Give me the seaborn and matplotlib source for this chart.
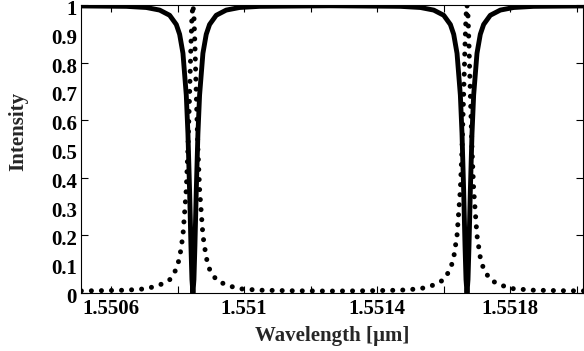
import numpy as np
import pandas as pd
import seaborn as sns
import matplotlib.pyplot as plt
from matplotlib.transforms import ScaledTranslation

# resonance centres (um)
dip_centres = [1.550846, 1.55167]

# offsets from each centre, in units of 1e-5 um
offset = [-30, -20, -14, -10, -7, -5, -4, -3, -2, -1.5, -1, -0.6, -0.3, 0,
          0.3, 0.6, 1, 1.5, 2, 3, 4, 5, 7, 10, 14, 20, 30]

# solid curve (through port) and dotted curve (drop port) around one resonance
thru = [0.996, 0.995, 0.991, 0.982, 0.964, 0.932, 0.898, 0.832, 0.687, 0.553, 0.354, 0.165, 0.047, 0.0,
        0.047, 0.165, 0.354, 0.553, 0.687, 0.832, 0.898, 0.932, 0.964, 0.982, 0.991, 0.995, 0.996]
drop = [0.008, 0.010, 0.015, 0.028, 0.046, 0.083, 0.123, 0.20, 0.36, 0.50, 0.692, 0.862, 0.962, 1.0,
        0.962, 0.862, 0.692, 0.50, 0.36, 0.20, 0.123, 0.083, 0.046, 0.028, 0.015, 0.010, 0.008]

# flat parts away from the resonances
edge_wl = [1.55045, 1.551258, 1.55210]
edge_thru = [0.997, 0.997, 0.997]
edge_drop = [0.007, 0.007, 0.007]

xticks_major = [1.5506, 1.551, 1.5514, 1.5518]
xtick_labels = ['1.5506', '1.551', '1.5514', '1.5518']
xticks_minor = [1.5508, 1.5512, 1.5516, 1.552]
yticks_major = [0, 0.2, 0.4, 0.6, 0.8, 1]
ytick_major_labels = ['0', '0.2', '0.4', '0.6', '0.8', '1']
yticks_minor = [0.1, 0.3, 0.5, 0.7, 0.9]
ytick_minor_labels = ['0.1', '0.3', '0.5', '0.7', '0.9']

rows = []
for c in dip_centres:
    for o, t, d in zip(offset, thru, drop):
        rows.append((c + o * 1e-5, t, d))
for w, t, d in zip(edge_wl, edge_thru, edge_drop):
    rows.append((w, t, d))
df = pd.DataFrame(rows, columns=['wl', 'thru', 'drop']).sort_values('wl')

sns.set_theme(style='ticks')
plt.rcParams['font.family'] = ['Liberation Serif', 'DejaVu Serif']
plt.rcParams['font.weight'] = 'bold'
plt.rcParams['axes.labelweight'] = 'bold'

fig = plt.figure(figsize=(5.84, 3.51), dpi=100)
ax = fig.add_axes([0.139, 0.165, 0.86, 0.821])

# dotted drop-port curve: round dots along the path
sns.lineplot(data=df, x='wl', y='drop', ax=ax, color='black', linewidth=3.6,
             estimator=None)
drop_line = ax.lines[-1]
drop_line.set_linestyle((0, (0.01, 2.0)))
drop_line.set_dash_capstyle('round')

sns.lineplot(data=df, x='wl', y='thru', ax=ax, color='black', linewidth=3.5,
             estimator=None)

ax.set_xlim(1.55051, 1.55202)
ax.set_ylim(0, 1)

ax.set_xticks(xticks_major, labels=xtick_labels)
ax.set_xticks(xticks_minor, minor=True)
ax.set_yticks(yticks_major, labels=ytick_major_labels)
ax.set_yticks(yticks_minor, labels=ytick_minor_labels, minor=True)

ax.tick_params(axis='both', which='both', direction='in', top=True, right=True,
               labelsize=15, width=0.8, color='black', labelcolor='black')
ax.tick_params(axis='x', which='both', length=5, pad=4)
ax.tick_params(axis='y', which='major', length=5, pad=3)
ax.tick_params(axis='y', which='minor', length=0, pad=3)

# y labels sit a touch below their ticks in the reference
shift = ScaledTranslation(0, -2.5 / 100, fig.dpi_scale_trans)
for lab in ax.get_yticklabels() + ax.get_yticklabels(minor=True):
    lab.set_fontweight('bold')
    lab.set_transform(lab.get_transform() + shift)
for lab in ax.get_xticklabels():
    lab.set_fontweight('bold')

for s in ax.spines.values():
    s.set_linewidth(0.8)
    s.set_color('black')

ax.set_xlabel('Wavelength [\u00b5m]', fontsize=15, fontweight='bold', labelpad=5)
ax.set_ylabel('Intensity', fontsize=15, fontweight='bold')
ax.yaxis.set_label_coords(-0.105, 0.5625)

fig.savefig('out.png', dpi=100)
